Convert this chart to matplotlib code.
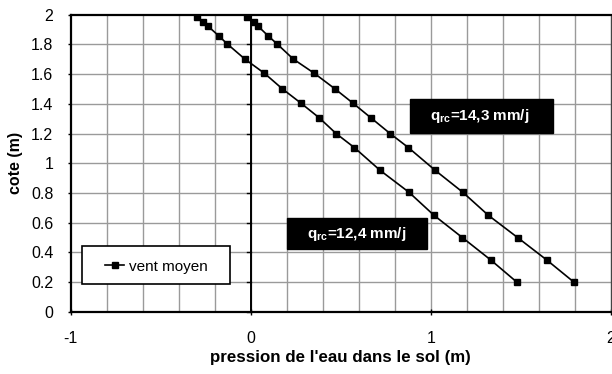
import matplotlib
matplotlib.use("Agg")
import matplotlib.pyplot as plt
from matplotlib.patches import Rectangle
import numpy as np

plt.rcParams['font.family'] = ['Liberation Sans', 'DejaVu Sans']

# q_rc = 12,4 mm/j
x_124 = [-0.30, -0.267, -0.236, -0.176, -0.133, -0.032, 0.076, 0.176, 0.278, 0.381,
         0.474, 0.576, 0.718, 0.879, 1.018, 1.176, 1.333, 1.479]
# q_rc = 14,3 mm/j
x_143 = [-0.022, 0.018, 0.042, 0.098, 0.144, 0.237, 0.353, 0.468, 0.567, 0.668,
         0.774, 0.876, 1.024, 1.178, 1.32, 1.483, 1.644, 1.796]
cote = [1.98, 1.95, 1.92, 1.855, 1.805, 1.70, 1.605, 1.50, 1.405, 1.305,
        1.20, 1.105, 0.953, 0.805, 0.65, 0.50, 0.35, 0.20]

x_ticks = [-1, 0, 1, 2]
x_ticklabels = ['-1', '0', '1', '2']
y_ticks = [0, 0.2, 0.4, 0.6, 0.8, 1, 1.2, 1.4, 1.6, 1.8, 2]
y_ticklabels = ['0', '0.2', '0.4', '0.6', '0.8', '1', '1.2', '1.4', '1.6', '1.8', '2']
labels = ["q$_{\\mathregular{rc}}$=14,3 mm/j", "q$_{\\mathregular{rc}}$=12,4 mm/j"]

fig = plt.figure(figsize=(6.12, 3.74), dpi=100)
ax = fig.add_axes([0.1155, 0.1658, 0.998 - 0.1155, 0.9612 - 0.1658])
ax.set_xlim(-1, 2)
ax.set_ylim(0, 2)

# grid every 0.2
for gx in np.arange(-0.8, 2.0, 0.2):
    ax.axvline(gx, color='#9a9a9a', lw=1.0, zorder=0)
for gy in np.arange(0.2, 2.0, 0.2):
    ax.axhline(gy, color='#9a9a9a', lw=1.0, zorder=0)

# vertical axis at x=0
ax.axvline(0, color='black', lw=1.4, zorder=1)
for gy in y_ticks:
    ax.plot([-0.022, 0], [gy, gy], color='black', lw=1.0, zorder=1, clip_on=False)

l1, = ax.plot(x_124, cote, color='black', lw=1.2, marker='s', ms=4.5, zorder=3,
              label='vent moyen')
ax.plot(x_143, cote, color='black', lw=1.2, marker='s', ms=4.5, zorder=3)

ax.set_xticks(x_ticks)
ax.set_xticklabels(x_ticklabels)
ax.set_yticks(y_ticks)
ax.set_yticklabels(y_ticklabels)
ax.tick_params(axis='both', labelsize=11.5, length=2.5, width=1.0, color='black')
ax.tick_params(axis='x', pad=11, direction='inout', length=5)
ax.tick_params(axis='y', pad=10)

for s in ['top', 'left', 'bottom']:
    ax.spines[s].set_linewidth(1.6)
    ax.spines[s].set_color('black')
ax.spines['right'].set_linewidth(1.0)
ax.spines['right'].set_color('#444444')

ax.set_xlabel("pression de l'eau dans le sol (m)", fontsize=12.2, fontweight='bold', labelpad=3)
ax.set_ylabel("cote (m)", fontsize=11.5, fontweight='bold', labelpad=6)

# annotation boxes
ax.add_patch(Rectangle((0.885, 1.205), 1.678 - 0.885, 1.430 - 1.205,
                       facecolor='black', edgecolor='black', zorder=4))
ax.text(1.274, 1.318, labels[0], color='white', fontsize=11, fontweight='bold',
        ha='center', va='center', zorder=5)
ax.add_patch(Rectangle((0.20, 0.4215), 0.981 - 0.20, 0.63 - 0.4215,
                       facecolor='black', edgecolor='black', zorder=4))
ax.text(0.589, 0.524, labels[1], color='white', fontsize=11, fontweight='bold',
        ha='center', va='center', zorder=5)

# legend
ax.add_patch(Rectangle((0.0209, 0.094), 0.295 - 0.0209, 0.222 - 0.094,
                       transform=ax.transAxes, facecolor='white', edgecolor='black',
                       lw=1.2, zorder=6))
leg = ax.legend(handles=[l1], loc='center left', bbox_to_anchor=(0.064, 0.152),
                frameon=False, fontsize=11, handlelength=1.25,
                borderpad=0, borderaxespad=0, handletextpad=0.28)
leg.set_zorder(7)

fig.savefig('out.png', dpi=100)
